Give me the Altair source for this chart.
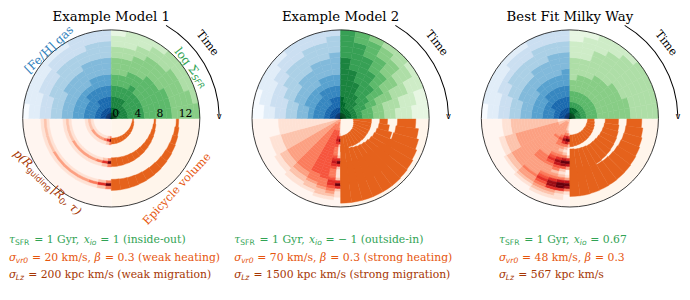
import altair as alt
import pandas as pd

TITLES = ["Example Model 1", "Example Model 2", "Best Fit Milky Way"]

# [Fe/H] gas (top-left quadrant). One string per 10-degree time sector,
# from 9 o'clock to 12 o'clock; one digit (level 0-9) per 1 kpc radial bin.
FEH_GAS = [
    ["9876655443322110", "9876655443322111", "9876655443332211",
     "9876655444332211", "9876665444333221", "9877665444333221",
     "9877665544433222", "9877665544433322", "9877665544433322"],
    ["9876654433221100", "9876654433222110", "9876655443322111",
     "9876655443332211", "9876655444333221", "9876665444333222",
     "9877665544433322", "9877665544433322", "9877665544443332"],
    ["9876655443322110", "9876655443322111", "9876655444332211",
     "9877655444333211", "9877665544333221", "9877665544433221",
     "9877665544433322", "9877665544443322", "9877665554443322"],
]

# log Sigma_SFR (top-right quadrant), sectors from 12 o'clock to 3 o'clock.
LOG_SFR = [
    ["9877665544433221", "9877665544433222", "9877665554443322",
     "9877666554444332", "9876665555444333", "9876665555444433",
     "9776665555544433", "9776665555544443", "9776665555544444"],
    ["9888777777766666", "9887777776666655", "9877777666665554",
     "9877766666555443", "9877666655544433", "9876665554443332",
     "9876655444333222", "9876554433322211", "9876554433222111"],
    ["9865544333322211", "9865544433322221", "9865544433333222",
     "9865544443333322", "9865544443333332", "9765544444333333",
     "9765544444333333", "9765544444433333", "9765544444433333"],
]

# p(R_guiding | R0, tau) (bottom-left quadrant). Sector edges in degrees from
# 6 o'clock towards 9 o'clock; one digit per 0.5 kpc radial bin.
RED_EDGES = [0, 5, 12, 20, 30, 45, 60, 75, 90]
P_RGUIDE = [
    ["0000 0004 9400 0004 9400 0004 9400 0000",
     "0000 0002 6200 0002 6200 0002 6200 0000",
     "0000 0001 4100 0001 4100 0001 4100 0000",
     "0000 0001 3100 0001 3100 0001 3100 0000",
     "0000 0001 3100 0001 3100 0001 3100 0000",
     "0000 0001 3100 0001 3100 0001 3100 0000",
     "0000 0001 2100 0001 2100 0001 2100 0000",
     "0000 0001 2100 0001 2100 0001 2100 0000"],
    ["0111 1126 9621 1126 9621 1126 9621 1000",
     "1233 4556 7654 4456 7654 4456 6543 2100",
     "2344 4555 5555 5555 5555 5554 4432 2100",
     "2344 4555 5555 5555 5555 5544 4322 1000",
     "2334 4444 4444 4444 4444 4443 3221 1000",
     "2333 3333 3333 3333 3333 3332 2211 0000",
     "2222 2222 2222 2222 2222 2221 1110 0000",
     "1111 1111 1111 1111 1111 1110 0000 0000"],
    ["0000 0026 9520 0026 9730 0137 9841 0000",
     "0011 1247 9742 1247 9852 1247 9962 1100",
     "1222 2346 8643 2346 8754 2346 8863 2100",
     "1233 3334 5443 3345 6543 3345 6543 2100",
     "1233 3333 4333 3333 4443 3333 4332 1000",
     "1233 3333 3333 3333 3333 3333 3221 0000",
     "1222 2333 3333 3333 3333 3222 2110 0000",
     "1111 1222 2222 2222 2222 2211 1000 0000"],
]

# Epicycle volume (bottom-right quadrant): for the bands of R0 = 4, 8, 12 kpc,
# inner and outer radius (kpc) in 12 sectors of 7.5 deg from 3 o'clock.
EPI_INNER = [
    [[3.85, 3.80, 3.77, 3.74, 3.71, 3.68, 3.65, 3.63, 3.61, 3.59, 3.57, 3.55],
     [7.75, 7.65, 7.57, 7.50, 7.43, 7.37, 7.32, 7.27, 7.22, 7.18, 7.14, 7.10],
     [11.75, 11.60, 11.50, 11.42, 11.35, 11.28, 11.22, 11.17, 11.12, 11.08, 11.04, 11.00]],
    [[2.30, 2.40, 2.50, 2.60, 2.70, 2.80, 2.85, 2.90, 3.00, 3.05, 3.10, 3.20],
     [7.10, 7.00, 6.80, 6.60, 6.40, 6.20, 6.00, 5.85, 5.70, 5.55, 5.30, 5.00],
     [10.30, 10.10, 9.90, 9.50, 9.00, 8.50, 8.00, 8.00, 8.00, 8.00, 8.00, 8.00]],
    [[3.20, 3.20, 3.15, 3.15, 3.10, 3.10, 3.10, 3.05, 3.05, 3.00, 3.00, 3.00],
     [6.40, 6.30, 6.20, 6.10, 6.00, 5.90, 5.85, 5.80, 5.70, 5.65, 5.60, 5.50],
     [10.30, 10.20, 10.10, 10.00, 9.90, 9.80, 9.70, 9.62, 9.50, 9.30, 9.00, 9.00]],
]
EPI_OUTER = [
    [[4.05, 4.15, 4.22, 4.28, 4.33, 4.38, 4.42, 4.46, 4.50, 4.54, 4.57, 4.60],
     [8.05, 8.15, 8.23, 8.30, 8.37, 8.43, 8.49, 8.54, 8.59, 8.63, 8.67, 8.70],
     [12.20, 12.35, 12.46, 12.55, 12.63, 12.70, 12.77, 12.83, 12.88, 12.93, 12.97, 13.00]],
    [[5.60, 5.60, 5.60, 5.55, 5.50, 5.50, 5.45, 5.40, 5.40, 5.35, 5.60, 6.00],
     [8.50, 8.90, 9.60, 10.50, 11.00, 11.50, 12.00, 12.00, 12.00, 12.00, 12.00, 12.00],
     [13.60, 14.20, 14.60, 14.90, 15.10, 15.20, 15.30, 15.30, 15.30, 15.30, 15.30, 15.30]],
    [[4.40, 4.50, 4.60, 4.65, 4.70, 4.75, 4.80, 4.85, 4.90, 4.95, 5.00, 5.10],
     [8.80, 8.95, 9.05, 9.15, 9.20, 9.30, 9.35, 9.45, 9.55, 10.50, 11.50, 12.00],
     [13.00, 13.30, 13.50, 13.65, 13.75, 13.85, 13.90, 13.95, 14.00, 14.05, 14.10, 14.10]],
]

RADIUS_TICKS = [0, 4, 8, 12]
R_MAX = 16

TAU_SFR = [1, 1, 1]
X_IO = ["1", "− 1", "0.67"]
X_IO_NOTE = ["(inside-out)", "(outside-in)", ""]
SIGMA_VR0 = [20, 70, 48]
BETA = [0.3, 0.3, 0.3]
HEAT_NOTE = ["(weak heating)", "(strong heating)", ""]
SIGMA_LZ = [200, 1500, 567]
MIG_NOTE = ["(weak migration)", "(strong migration)", ""]

# ---------------------------------------------------------------- styling
SERIF = "DejaVu Serif"
SANS = "DejaVu Sans"
BLUES = ['#f7fbff', '#deebf7', '#c6dbef', '#9ecae1', '#6baed6', '#4292c6', '#2171b5', '#08519c', '#08306b']
GREENS = ['#f7fcf5', '#e5f5e0', '#c7e9c0', '#a1d99b', '#74c476', '#41ab5d', '#238b45', '#006d2c', '#00441b']
REDS = ['#fff5f0', '#fee0d2', '#fcbba1', '#fc9272', '#fb6a4a', '#ef3b2c', '#cb181d', '#a50f15', '#67000d']
STOPS = [i * 9 / 8 for i in range(9)]
ORANGE_BAND = "#e5621c"
ORANGE_BG = "#fff5eb"
C_GREEN, C_ORANGE, C_BROWN, C_BLUE = "#31a354", "#e6550d", "#a63603", "#3182bd"

TH = alt.Scale(domain=[0, 360])
RS = alt.Scale(type="linear", domain=[0, R_MAX], range=[0, 90])
XS = alt.Scale(type="point", domain=[0, 1, 2], padding=0.446)
X = alt.X("panel:O", scale=XS, axis=None)

EM = {' ': 0.318, '=': 0.838, '(': 0.39, ')': 0.39, ',': 0.318, '.': 0.318, '/': 0.337,
      '-': 0.338, '−': 0.838, '|': 0.337, '[': 0.39, ']': 0.39,
      'a': 0.596, 'b': 0.64, 'c': 0.56, 'd': 0.64, 'e': 0.592, 'f': 0.37, 'g': 0.64,
      'h': 0.644, 'i': 0.32, 'k': 0.609, 'l': 0.32, 'm': 0.948, 'n': 0.644, 'o': 0.602,
      'p': 0.64, 'r': 0.478, 's': 0.513, 't': 0.402, 'u': 0.644, 'v': 0.565, 'w': 0.856,
      'x': 0.564, 'y': 0.565, 'z': 0.527, 'E': 0.73, 'F': 0.683, 'G': 0.775, 'H': 0.837,
      'L': 0.667, 'R': 0.732, 'S': 0.685, 'T': 0.68, 'τ': 0.55, 'σ': 0.63, 'β': 0.64, 'Σ': 0.72}
for d in "0123456789":
    EM[d] = 0.636


def tw(s, size):
    return sum(EM.get(c, 0.6) for c in s) * size


def lead_w(t, size):
    return tw(t[:len(t) - len(t.lstrip())], size)


# ---------------------------------------------------------------- data frames
def grid_df(grids, q0, edges, dr, centered, skip_zero=False):
    rows = []
    for p, grid in enumerate(grids):
        for k, row in enumerate(grid):
            digits = row.replace(" ", "")
            for i, ch in enumerate(digits):
                v = int(ch)
                if skip_zero and v == 0:
                    continue
                if centered:
                    r0, r1 = max(0.0, i * dr - dr / 2), i * dr + dr / 2
                else:
                    r0, r1 = i * dr, (i + 1) * dr
                rows.append(dict(panel=p, t0=q0 + edges[k], t1=q0 + edges[k + 1], r0=r0, r1=r1, v=v))
    return pd.DataFrame(rows)


TEN = list(range(0, 100, 10))
blue_df = grid_df(FEH_GAS, 270, TEN, 1.0, False)
green_df = grid_df(LOG_SFR, 0, TEN, 1.0, False)
red_df = grid_df(P_RGUIDE, 180, RED_EDGES, 0.5, True, skip_zero=True)

epi_rows = []
for p in range(3):
    for b in range(3):
        for k in range(12):
            epi_rows.append(dict(panel=p, t0=90 + 7.5 * k, t1=90 + 7.5 * (k + 1),
                                 r0=EPI_INNER[p][b][k], r1=EPI_OUTER[p][b][k]))
epi_df = pd.DataFrame(epi_rows)


def quad_df(t0, t1):
    return pd.DataFrame(dict(panel=[0, 1, 2], t0=[t0] * 3, t1=[t1] * 3, r0=[0] * 3, r1=[R_MAX] * 3))


def arc_enc(**extra):
    enc = dict(x=X,
               theta=alt.Theta("t0:Q", scale=TH, stack=False), theta2="t1:Q",
               radius=alt.Radius("r1:Q", scale=RS, stack=False), radius2="r0:Q")
    enc.update(extra)
    return enc


def cell_layer(df, colors):
    sc = alt.Scale(type="linear", domain=STOPS, range=colors, interpolate="rgb")
    return alt.Chart(df).mark_arc(strokeWidth=0.5).encode(**arc_enc(
        color=alt.Color("v:Q", scale=sc, legend=None),
        stroke=alt.Stroke("v:Q", scale=sc, legend=None)))


layers = []
layers.append(alt.Chart(quad_df(180, 270)).mark_arc(color=REDS[0], strokeWidth=0).encode(**arc_enc()))
layers.append(alt.Chart(quad_df(90, 180)).mark_arc(color=ORANGE_BG, strokeWidth=0).encode(**arc_enc()))
layers.append(cell_layer(red_df, REDS))
layers.append(alt.Chart(epi_df).mark_arc(color=ORANGE_BAND, stroke=ORANGE_BAND, strokeWidth=0.4).encode(**arc_enc()))
layers.append(cell_layer(blue_df, BLUES))
layers.append(cell_layer(green_df, GREENS))

# outer circle
layers.append(alt.Chart(pd.DataFrame(dict(panel=[0, 1, 2], t0=[0] * 3, t1=[360] * 3, r0=[0] * 3, r1=[R_MAX] * 3)))
              .mark_arc(fillOpacity=0, stroke="#222222", strokeWidth=0.9).encode(**arc_enc()))

# Time arrow (thin arc) for every panel
layers.append(alt.Chart(pd.DataFrame(dict(panel=[0, 1, 2], t0=[30.5] * 3, t1=[88.5] * 3, r0=[19.42] * 3, r1=[19.6] * 3)))
              .mark_arc(color="black", strokeWidth=0).encode(**arc_enc()))


def polar_text(panel, theta, r, angle, pieces, color, size):
    widths = [tw(t, size * s) for t, s, _, _, _ in pieces]
    x0 = -sum(widths) / 2
    out = []
    for (t, s, dy, st, fnt), w in zip(pieces, widths):
        df = pd.DataFrame(dict(panel=[panel], th=[theta], r=[r], text=[t.strip()]))
        out.append(alt.Chart(df).mark_text(align="left", baseline="middle", angle=angle,
                                           dx=x0 + lead_w(t, size * s), dy=dy,
                                           fontSize=size * s, font=fnt, fontStyle=st, color=color)
                   .encode(x=X, theta=alt.Theta("th:Q", scale=TH, stack=False),
                           radius=alt.Radius("r:Q", scale=RS, stack=False), text="text:N"))
        x0 += w
    return out


for p in range(3):
    layers += polar_text(p, 52, 22.0, 52, [("Time", 1, 0, "normal", SERIF)], "black", 11.5)
    head = pd.DataFrame(dict(panel=[p], th=[90], r=[19.51], text=["∨"]))
    layers.append(alt.Chart(head).mark_text(align="center", baseline="alphabetic", dy=1, fontSize=9,
                                            font=SANS, color="black")
                  .encode(x=X, theta=alt.Theta("th:Q", scale=TH, stack=False),
                          radius=alt.Radius("r:Q", scale=RS, stack=False), text="text:N"))

# quadrant labels (first panel only)
layers += polar_text(0, 318, 16.8, 316, [("[Fe/H] gas", 1, 0, "normal", SERIF)], C_BLUE, 12)
layers += polar_text(0, 58, 17.2, 52, [("log Σ", 1, 0, "normal", SERIF), ("SFR", 0.7, 3.5, "italic", SANS)],
                     C_GREEN, 12)
layers += polar_text(0, 225, 16.3, 44, [("p(R", 1, 0, "italic", SERIF), ("guiding", 0.7, 3.5, "normal", SANS),
                                        ("|R", 1, 0, "italic", SERIF), ("0", 0.7, 3.5, "normal", SANS),
                                        (", τ)", 1, 0, "italic", SERIF)], C_BROWN, 12)
layers += polar_text(0, 137, 17.5, 313, [("Epicycle volume", 1, 0, "normal", SERIF)], C_ORANGE, 11.5)

# radius tick labels
tick_df = pd.DataFrame(dict(panel=[0] * len(RADIUS_TICKS), th=[90] * len(RADIUS_TICKS),
                            r=RADIUS_TICKS, text=[str(t) for t in RADIUS_TICKS]))
layers.append(alt.Chart(tick_df).mark_text(align="left", baseline="alphabetic", dx=1, dy=-1.5,
                                           fontSize=11, font=SERIF, color="black")
              .encode(x=X, theta=alt.Theta("th:Q", scale=TH, stack=False),
                      radius=alt.Radius("r:Q", scale=RS, stack=False), text="text:N"))

# titles
layers.append(alt.Chart(pd.DataFrame(dict(panel=[0, 1, 2], text=TITLES)))
              .mark_text(align="center", baseline="top", fontSize=13.5, font=SERIF, color="black")
              .encode(x=X, y=alt.value(0), text="text:N"))

# parameter lines under each panel
LINE_Y = [234, 252, 269.5]
LINE_DX = [-104, -108, -72]
FS = 11


def with_note(s, note):
    return s + (" " + note if note else "")


for p in range(3):
    lines = [
        ([("τ", 1, 0, "italic", SERIF), ("SFR", 0.7, 3, "normal", SANS),
          (f" = {TAU_SFR[p]} Gyr, ", 1, 0, "normal", SERIF),
          ("x", 1, 0, "italic", SERIF), ("io", 0.7, 3, "italic", SANS),
          (with_note(f" = {X_IO[p]}", X_IO_NOTE[p]), 1, 0, "normal", SERIF)], C_GREEN),
        ([("σ", 1, 0, "italic", SERIF), ("vr0", 0.7, 3, "italic", SANS),
          (f" = {SIGMA_VR0[p]} km/s, ", 1, 0, "normal", SERIF),
          ("β", 1, 0, "italic", SERIF), (with_note(f" =  {BETA[p]}", HEAT_NOTE[p]), 1, 0, "normal", SERIF)],
         C_ORANGE),
        ([("σ", 1, 0, "italic", SERIF), ("Lz", 0.7, 3, "italic", SANS),
          (with_note(f" = {SIGMA_LZ[p]} kpc km/s", MIG_NOTE[p]), 1, 0, "normal", SERIF)], C_BROWN),
    ]
    for li, (pieces, col) in enumerate(lines):
        x0 = LINE_DX[p]
        for t, s, dy, st, fnt in pieces:
            df = pd.DataFrame(dict(panel=[p], text=[t.strip()]))
            layers.append(alt.Chart(df).mark_text(align="left", baseline="middle",
                                                  dx=x0 + lead_w(t, FS * s), dy=dy,
                                                  fontSize=FS * s, font=fnt, fontStyle=st, color=col)
                          .encode(x=X, y=alt.value(LINE_Y[li]), text="text:N"))
            x0 += tw(t, FS * s)

chart = (alt.layer(*layers)
         .properties(width=674, height=220, padding=0)
         .resolve_scale(color="independent", stroke="independent")
         .configure_view(strokeWidth=0))

chart.save("out.html", embed_options={"renderer": "svg", "actions": False})
